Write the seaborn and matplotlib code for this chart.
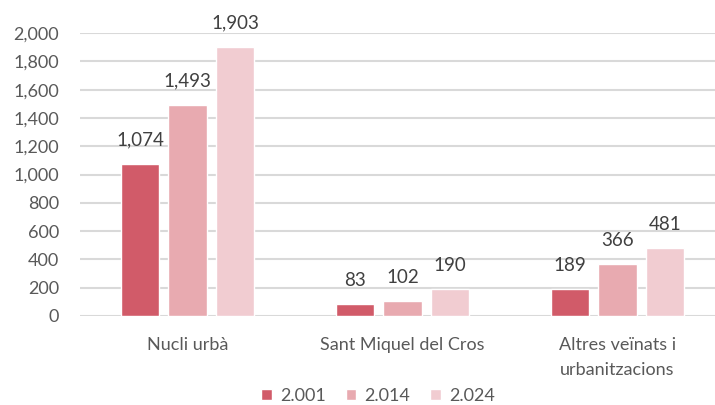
import matplotlib
matplotlib.use("Agg")
import matplotlib.pyplot as plt
import seaborn as sns
import pandas as pd

categories = ["Nucli urbà", "Sant Miquel del Cros", "Altres veïnats i\nurbanitzacions"]
years = ["2.001", "2.014", "2.024"]
values_2001 = [1074, 83, 189]
values_2014 = [1493, 102, 366]
values_2024 = [1903, 190, 481]
colors = ["#D15B69", "#E8AAB0", "#F1CCD1"]

rows = []
for y, vals in zip(years, [values_2001, values_2014, values_2024]):
    for c, v in zip(categories, vals):
        rows.append({"cat": c, "year": y, "val": v})
df = pd.DataFrame(rows)

sns.set_theme(style="white")
plt.rcParams["font.family"] = ["Lato", "DejaVu Sans"]
text_color = "#595959"

fig = plt.figure(figsize=(7.15, 4.05), dpi=100)
ax = fig.add_axes([80 / 715, 0.22, 645 / 715, 0.698])
sns.barplot(data=df, x="cat", y="val", hue="year", palette=colors,
            width=0.663, gap=0.2, ax=ax, saturation=1, legend=True)

for cont in ax.containers:
    ax.bar_label(cont, labels=[f"{int(v):,}" for v in cont.datavalues],
                 padding=11, fontsize=13.5, color="#404040")

ax.set_ylim(0, 2000)
ax.set_yticks(range(0, 2001, 200))
ax.set_yticklabels([f"{v:,}" for v in range(0, 2001, 200)])
ax.yaxis.grid(True, color="#D9D9D9", linewidth=1.5)
ax.set_axisbelow(True)
for s in ax.spines.values():
    s.set_visible(False)
ax.set_xlabel("")
ax.set_ylabel("")
ax.set_xticks(range(len(categories)))
ax.set_xticklabels(categories, linespacing=1.75)
ax.tick_params(axis="both", length=0, labelsize=13, colors=text_color)
ax.tick_params(axis="x", pad=15)
ax.tick_params(axis="y", pad=15)

leg = ax.legend(loc="center", bbox_to_anchor=(298 / 645, -80 / 282.7), ncol=3,
                frameon=False, fontsize=13, handlelength=0.6, handleheight=0.6,
                columnspacing=1.1, handletextpad=0.45)
for t in leg.get_texts():
    t.set_color(text_color)

fig.savefig("out.png", dpi=100)
